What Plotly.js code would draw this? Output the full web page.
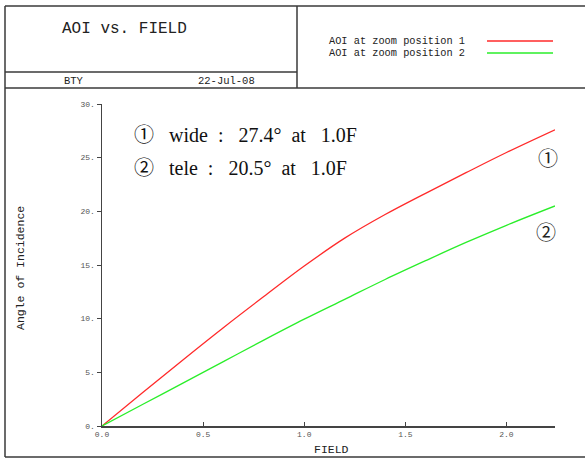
<!DOCTYPE html>
<html>
<head>
<meta charset="utf-8">
<script src="https://cdn.plot.ly/plotly-3.0.1.min.js"></script>
<style>
  html, body { margin: 0; padding: 0; background: #fff; }
  #chart { width: 585px; height: 459px; }
</style>
</head>
<body>
<div id="chart"></div>
<script>
// Field position (normalized) and angle of incidence in degrees
const field    = [0, 0.2, 0.4, 0.6, 0.8, 1.0, 1.2, 1.4, 1.6, 1.8, 2.0, 2.24];
const aoiZoom1 = [0, 3.1, 6.16, 9.16, 12.06, 14.9, 17.5, 19.7, 21.68, 23.6, 25.48, 27.6];
const aoiZoom2 = [0, 2.0, 4.0, 6.0, 8.0, 9.95, 11.8, 13.65, 15.4, 17.1, 18.7, 20.5];

const seriesNames = ['AOI at zoom position 1', 'AOI at zoom position 2'];
const seriesColors = ['#ff2a2a', '#2aee2a'];

const xTickVals = [0, 0.5, 1.0, 1.5, 2.0];
const xTickText = ['0.0', '0.5', '1.0', '1.5', '2.0'];
const yTickVals = [0, 5, 10, 15, 20, 25, 30];
const yTickText = ['0.', '5.', '10.', '15.', '20.', '25.', '30.'];

const plotTitle = 'AOI vs. FIELD';
const author = 'BTY';
const dateText = '22-Jul-08';
const xTitle = 'FIELD';
const yTitle = 'Angle of Incidence';
const noteLines = [
  '①\u2002 wide\u2002:\u2002 27.4°\u2002at\u2002 1.0F',
  '②\u2002 tele\u2002:\u2002 20.5°\u2002at\u2002 1.0F'
];
const curveMarks = ['①', '②'];

// Page geometry (pixels)
const W = 585, H = 459;
const M = { l: 102, r: 30, t: 104, b: 33 };
const PW = W - M.l - M.r, PH = H - M.t - M.b;
const px = x => (x - M.l) / PW;           // pixel x -> paper x
const py = y => (H - M.b - y) / PH;       // pixel y -> paper y

const mono = 'Liberation Mono, Courier New, monospace';
const serif = 'Liberation Serif, Noto Sans CJK KR, serif';
const frameColor = '#3a3a3a';

function seg(x0, y0, x1, y1, color, width) {
  return {
    type: 'line', xref: 'paper', yref: 'paper',
    x0: px(x0), y0: py(y0), x1: px(x1), y1: py(y1),
    line: { color: color || frameColor, width: width || 1.5 }
  };
}
function label(text, x, y, size, opts) {
  return Object.assign({
    text: text, xref: 'paper', yref: 'paper', x: px(x), y: py(y),
    xanchor: 'left', yanchor: 'middle', showarrow: false,
    font: { family: mono, size: size, color: '#222' }
  }, opts || {});
}

const curveLine = color => ({ color: color, width: 1.3, shape: 'spline', smoothing: 1 });
const traces = [
  { x: field, y: aoiZoom1, name: seriesNames[0], type: 'scatter', mode: 'lines', line: curveLine(seriesColors[0]) },
  { x: field, y: aoiZoom2, name: seriesNames[1], type: 'scatter', mode: 'lines', line: curveLine(seriesColors[1]) }
];

const shapes = [
  seg(5, 6, 585, 6),
  seg(5, 6, 5, 457),
  seg(5, 457, 585, 457),
  seg(5, 88, 585, 88),
  seg(297, 6, 297, 88),
  seg(5, 72, 297, 72),
  seg(487, 41, 553, 41, seriesColors[0], 1.3),
  seg(487, 53, 553, 53, seriesColors[1], 1.3)
];

const noteFont = { family: serif, size: 20, color: '#111' };
const annotations = [
  label(plotTitle, 60, 29, 16),
  label(author, 62, 81, 10.5),
  label(dateText, 196, 81, 10.5),
  label(seriesNames[0], 327, 41, 10.3),
  label(seriesNames[1], 327, 53, 10.3),
  label(xTitle, 331, 449, 11.5, { xanchor: 'center' }),
  label(yTitle, 20, 268, 11.5, { xanchor: 'center', textangle: -90 }),
  label(noteLines[0], 132, 135, 20, { font: noteFont }),
  label(noteLines[1], 132, 168, 20, { font: noteFont }),
  label(curveMarks[0], 548, 159, 20, { xanchor: 'center', font: { family: serif, size: 20, color: '#222' } }),
  label(curveMarks[1], 546, 233, 20, { xanchor: 'center', font: { family: serif, size: 20, color: '#222' } })
];

const axisCommon = {
  showgrid: false, zeroline: false, showline: true,
  linecolor: '#444', linewidth: 1.5, tickcolor: '#444',
  tickfont: { family: mono, size: 8, color: '#555' },
  fixedrange: true
};

const layout = {
  width: W, height: H,
  margin: M,
  paper_bgcolor: '#fff', plot_bgcolor: '#fff',
  showlegend: false,
  xaxis: Object.assign({}, axisCommon, {
    range: [0, 2.24], tickmode: 'array', tickvals: xTickVals, ticktext: xTickText,
    ticks: 'inside', ticklen: 4
  }),
  yaxis: Object.assign({}, axisCommon, {
    range: [0, 30], tickmode: 'array', tickvals: yTickVals, ticktext: yTickText,
    ticks: 'outside', ticklen: 4
  }),
  shapes: shapes,
  annotations: annotations
};

Plotly.newPlot('chart', traces, layout, { staticPlot: true, displayModeBar: false });
</script>
</body>
</html>
